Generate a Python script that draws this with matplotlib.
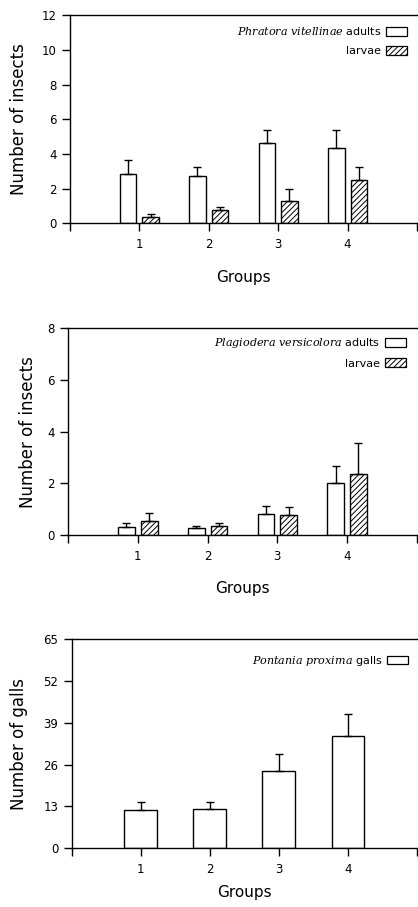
import numpy as np
import matplotlib
matplotlib.use('Agg')
import matplotlib.pyplot as plt
from matplotlib.patches import Patch

# --- data ---
groups = [1, 2, 3, 4]

phr_adults = [2.85, 2.75, 4.62, 4.33]
phr_adults_err = [0.77, 0.47, 0.74, 1.03]
phr_larvae = [0.35, 0.73, 1.29, 2.47]
phr_larvae_err = [0.19, 0.19, 0.68, 0.75]

pla_adults = [0.32, 0.26, 0.83, 2.01]
pla_adults_err = [0.16, 0.11, 0.31, 0.66]
pla_larvae = [0.55, 0.36, 0.77, 2.37]
pla_larvae_err = [0.29, 0.12, 0.30, 1.20]

pon_galls = [11.96, 12.06, 24.0, 34.9]
pon_galls_err = [2.3, 2.3, 5.3, 6.9]

plt.rcParams['font.family'] = ['DejaVu Sans']
plt.rcParams['mathtext.fontset'] = 'dejavuserif'
plt.rcParams['hatch.linewidth'] = 0.7

fig = plt.figure(figsize=(4.18, 9.07), dpi=100)


def style_axes(ax, ymax, yticks, ylabel, xpad, ypad):
    ax.set_xlim(0, 5.0)
    ax.set_ylim(0, ymax)
    ax.spines['right'].set_visible(False)
    for s in ax.spines.values():
        s.set_linewidth(1.0)
    ax.set_yticks(yticks)
    ax.set_xticks([0, 1, 2, 3, 4, 5])
    ax.set_xticklabels(['', '1', '2', '3', '4', ''])
    ax.tick_params(direction='out', length=5.5, width=1, labelsize=8.5, pad=4)
    ax.tick_params(axis='x', pad=5)
    ax.set_ylabel(ylabel, fontsize=12, labelpad=ypad)
    ax.set_xlabel('Groups', fontsize=11, labelpad=xpad)


def add_legend(ax, handles, pad, anchor=(1.0, 1.0)):
    ax.legend(handles=handles, loc='upper right', bbox_to_anchor=anchor,
              frameon=False, markerfirst=False,
              fontsize=8, handlelength=1.9, handleheight=0.85, labelspacing=0.75,
              borderaxespad=pad, handletextpad=0.4)


def draw_pair(ax, adults, a_err, larvae, l_err, species, ymax, yticks, pad, xpad, ypad,
              anchor=(1.0, 1.0)):
    x = np.array(groups, dtype=float)
    w = 0.24
    off = 0.163
    ax.bar(x - off, adults, w, facecolor='white', edgecolor='black', linewidth=1.0)
    ax.bar(x + off, larvae, w, facecolor='white', edgecolor='black', linewidth=1.0,
           hatch='//////')
    ax.errorbar(x - off, adults, yerr=[np.zeros(4), a_err], fmt='none', ecolor='black',
                elinewidth=1, capsize=3, capthick=1)
    ax.errorbar(x + off, larvae, yerr=[np.zeros(4), l_err], fmt='none', ecolor='black',
                elinewidth=1, capsize=3, capthick=1)
    handles = [
        Patch(facecolor='white', edgecolor='black', linewidth=0.9,
              label=r'$\mathit{' + species.replace(' ', r'\ ') + r'}$ adults'),
        Patch(facecolor='white', edgecolor='black', linewidth=0.9, hatch='//////',
              label='larvae'),
    ]
    add_legend(ax, handles, pad, anchor)
    style_axes(ax, ymax, yticks, 'Number of insects', xpad, ypad)


ax1 = fig.add_axes([0.1675, 0.754, 0.830, 0.229])
draw_pair(ax1, phr_adults, phr_adults_err, phr_larvae, phr_larvae_err,
          'Phratora vitellinae', 12, [0, 2, 4, 6, 8, 10, 12], 0.5, 14, 9.6)

ax2 = fig.add_axes([0.163, 0.410, 0.834, 0.228])
draw_pair(ax2, pla_adults, pla_adults_err, pla_larvae, pla_larvae_err,
          'Plagiodera versicolora', 8, [0, 2, 4, 6, 8], 0.3, 13, 7.5,
          anchor=(0.991, 1.0))

ax3 = fig.add_axes([0.1715, 0.065, 0.826, 0.230])
x = np.array(groups, dtype=float)
ax3.bar(x, pon_galls, 0.475, facecolor='white', edgecolor='black', linewidth=1.0)
ax3.errorbar(x, pon_galls, yerr=[np.zeros(4), pon_galls_err], fmt='none', ecolor='black',
             elinewidth=1, capsize=3, capthick=1)
add_legend(ax3, [Patch(facecolor='white', edgecolor='black', linewidth=0.9,
                       label=r'$\mathit{Pontania\ proxima}$ galls')], 0.9,
           anchor=(1.017, 1.0))
style_axes(ax3, 65, [0, 13, 26, 39, 52, 65], 'Number of galls', 7, 11)

fig.savefig('out.png', dpi=100)
